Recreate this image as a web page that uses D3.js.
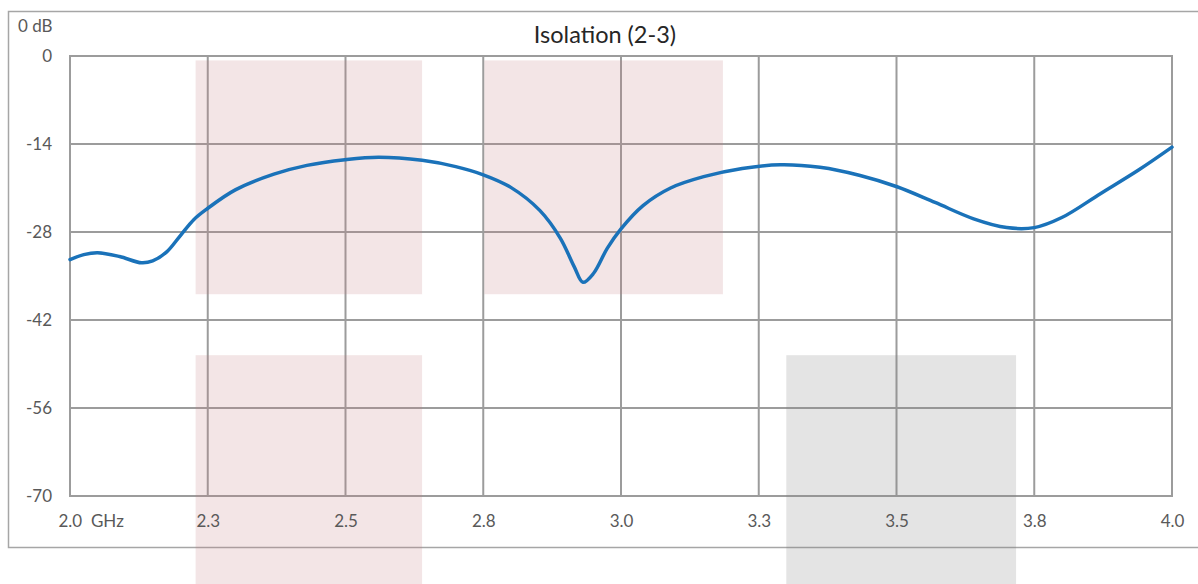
<!DOCTYPE html>
<html>
<head>
<meta charset="utf-8">
<script src="https://cdn.jsdelivr.net/npm/d3@7/dist/d3.min.js"></script>
<style>
  html, body { margin: 0; padding: 0; background: #fff; }
  svg { display: block; }
  text { font-family: Lato, "Open Sans", sans-serif; }
</style>
</head>
<body>
<svg id="chart" width="1198" height="584"></svg>
<script>
// ---- data ----
const title = "Isolation (2-3)";
const freqGHz = [2.000, 2.025, 2.050, 2.090, 2.130, 2.150, 2.175, 2.200, 2.225, 2.249, 2.300, 2.370, 2.430, 2.499, 2.560, 2.639, 2.700, 2.750, 2.800, 2.853, 2.890, 2.915, 2.931, 2.950, 2.975, 3.000, 3.040, 3.090, 3.150, 3.220, 3.289, 3.361, 3.434, 3.501, 3.570, 3.640, 3.700, 3.750, 3.800, 3.870, 3.940, 4.000];
const isolationDb = [-32.4, -31.6, -31.3, -31.9, -32.9, -32.6, -31.2, -28.6, -26.0, -24.3, -21.3, -18.8, -17.4, -16.5, -16.1, -16.6, -17.6, -18.9, -20.9, -24.6, -29.0, -33.5, -36.0, -34.6, -30.6, -27.5, -23.8, -21.0, -19.2, -17.9, -17.3, -17.7, -19.0, -20.8, -23.3, -25.9, -27.3, -27.3, -25.7, -21.9, -18.1, -14.5];
const xTicks = [2.0, 2.25, 2.5, 2.75, 3.0, 3.25, 3.5, 3.75, 4.0];
const xTickLabels = ["2.0", "2.3", "2.5", "2.8", "3.0", "3.3", "3.5", "3.8", "4.0"];
const yTicks = [0, -14, -28, -42, -56, -70];
const yTickLabels = ["0", "-14", "-28", "-42", "-56", "-70"];
const xUnit = "GHz";
const yUnit = "0 dB";
// shaded bands: start / end frequency, top / bottom level, kind
const bandFStart = [2.228, 2.752, 2.228, 3.300];
const bandFEnd   = [2.639, 3.185, 2.639, 3.717];
const bandDbTop  = [-0.7, -0.7, -47.6, -47.6];
const bandDbBot  = [-37.9, -37.9, -90, -90];
const bandKind   = ["pink", "pink", "pink", "gray"];

// ---- layout ----
const svg = d3.select("#chart");
const W = 1198, H = 584;
const plot = { left: 70, right: 1172, top: 56, bottom: 496 };

const x = d3.scaleLinear().domain([2.0, 4.0]).range([plot.left, plot.right]);
const y = d3.scaleLinear().domain([-70, 0]).range([plot.bottom, plot.top]);

// outer frame
svg.append("rect")
  .attr("x", 8.5).attr("y", 11.5).attr("width", W + 10).attr("height", 536)
  .attr("fill", "none").attr("stroke", "#a6a6a6").attr("stroke-width", 1.5);

// gridlines
const grid = svg.append("g");
grid.selectAll("line.v").data(xTicks).join("line")
  .attr("x1", d => x(d)).attr("x2", d => x(d))
  .attr("y1", plot.top).attr("y2", plot.bottom)
  .attr("stroke", "#9c9c9c").attr("stroke-width", 2);
grid.selectAll("line.h").data(yTicks).join("line")
  .attr("x1", plot.left).attr("x2", plot.right)
  .attr("y1", d => y(d)).attr("y2", d => y(d))
  .attr("stroke", "#9c9c9c").attr("stroke-width", 2);

// plot border
svg.append("rect")
  .attr("x", plot.left).attr("y", plot.top)
  .attr("width", plot.right - plot.left).attr("height", plot.bottom - plot.top)
  .attr("fill", "none").attr("stroke", "#9c9c9c").attr("stroke-width", 2);

// bands (translucent overlay)
const bandColor = { pink: "rgb(195,125,132)", gray: "rgb(128,128,128)" };
const bandOpacity = { pink: 0.2, gray: 0.21 };
svg.append("g").selectAll("rect").data(d3.range(bandFStart.length)).join("rect")
  .attr("x", i => x(bandFStart[i]))
  .attr("width", i => x(bandFEnd[i]) - x(bandFStart[i]))
  .attr("y", i => y(bandDbTop[i]))
  .attr("height", i => y(bandDbBot[i]) - y(bandDbTop[i]))
  .attr("fill", i => bandColor[bandKind[i]])
  .attr("fill-opacity", i => bandOpacity[bandKind[i]]);

// curve
const line = d3.line()
  .x((d, i) => x(freqGHz[i]))
  .y(d => y(d))
  .curve(d3.curveCatmullRom.alpha(0.5));
svg.append("path")
  .datum(isolationDb)
  .attr("d", line)
  .attr("fill", "none")
  .attr("stroke", "#1a72b9")
  .attr("stroke-width", 3.5)
  .attr("stroke-linejoin", "round")
  .attr("stroke-linecap", "round");

// axes (labels only)
const xAxis = d3.axisBottom(x).tickValues(xTicks)
  .tickFormat((d, i) => xTickLabels[i]).tickSize(0).tickPadding(19);
const gx = svg.append("g").attr("transform", `translate(0,${plot.bottom})`).call(xAxis);
gx.select(".domain").remove();
gx.selectAll("text").attr("fill", "#595959")
  .style("font-size", "17px")
  .style("font-family", "Lato, 'Open Sans', sans-serif");
gx.selectAll(".tick").filter((d, i) => i === 0).select("text")
  .attr("text-anchor", "start").attr("x", -12)
  .attr("xml:space", "preserve")
  .text(xTickLabels[0] + "  " + xUnit);

const yAxis = d3.axisLeft(y).tickValues(yTicks)
  .tickFormat((d, i) => yTickLabels[i]).tickSize(0).tickPadding(18);
const gy = svg.append("g").attr("transform", `translate(${plot.left},0)`).call(yAxis);
gy.select(".domain").remove();
gy.selectAll("text").attr("fill", "#595959")
  .style("font-size", "17px")
  .style("font-family", "Lato, 'Open Sans', sans-serif");

// unit label
svg.append("text").attr("x", 18).attr("y", 32)
  .attr("fill", "#595959").style("font-size", "17px").text(yUnit);

// title
svg.append("text").attr("x", 605).attr("y", 43).attr("text-anchor", "middle")
  .attr("fill", "#262626").style("font-size", "23.5px").text(title);
</script>
</body>
</html>
